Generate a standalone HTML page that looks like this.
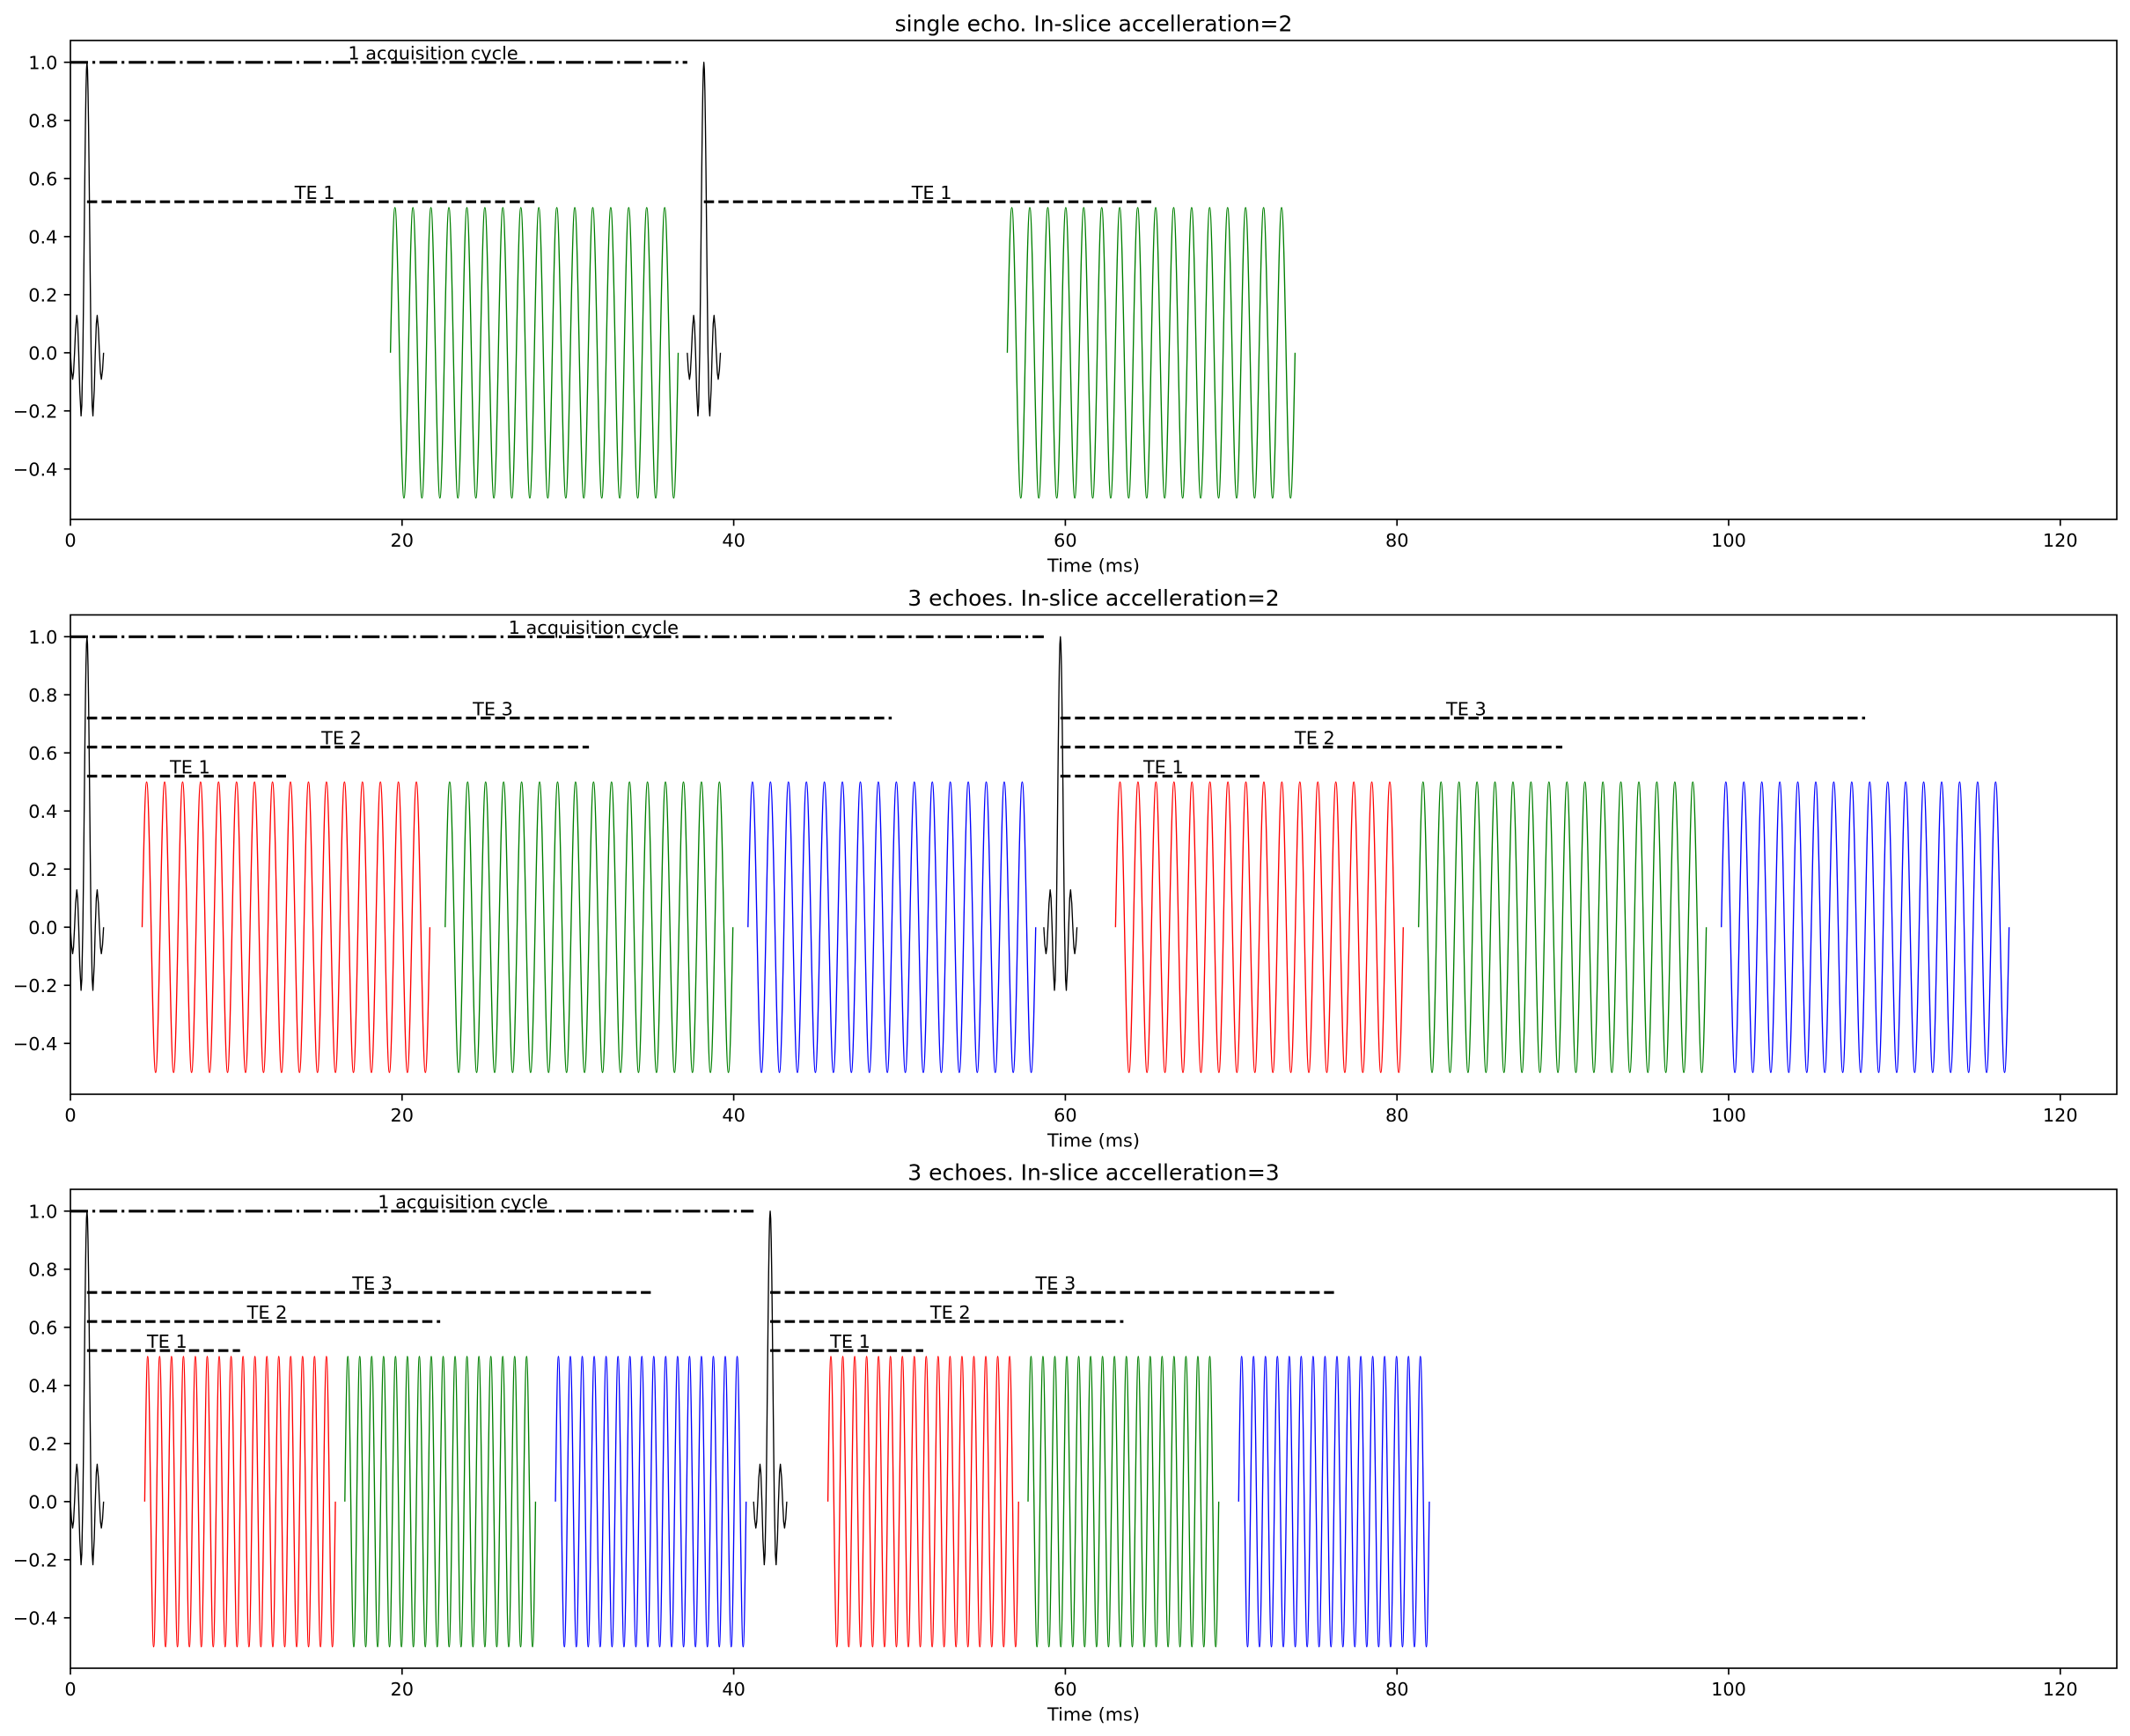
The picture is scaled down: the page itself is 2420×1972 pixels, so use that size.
<!DOCTYPE html>
<html><head><meta charset="utf-8"><style>html,body{margin:0;padding:0;background:#fff}svg{display:block}</style></head>
<body>
<svg xmlns="http://www.w3.org/2000/svg" width="2420" height="1972" viewBox="0 0 2420 1972">
<defs>
<path id="ro2" fill="none" d="M0,0 c1.666,-84.53 3.259,-165 5.108,-165 c1.848,0 3.442,80.47 5.108,165 c1.666,84.53 3.259,165 5.108,165 c1.848,0 3.442,-80.47 5.108,-165 c1.666,-84.53 3.259,-165 5.108,-165 c1.848,0 3.442,80.47 5.108,165 c1.666,84.53 3.259,165 5.108,165 c1.848,0 3.442,-80.47 5.108,-165 c1.666,-84.53 3.259,-165 5.108,-165 c1.848,0 3.442,80.47 5.108,165 c1.666,84.53 3.259,165 5.108,165 c1.848,0 3.442,-80.47 5.108,-165 c1.666,-84.53 3.259,-165 5.108,-165 c1.848,0 3.442,80.47 5.108,165 c1.666,84.53 3.259,165 5.108,165 c1.848,0 3.442,-80.47 5.108,-165 c1.666,-84.53 3.259,-165 5.108,-165 c1.848,0 3.442,80.47 5.108,165 c1.666,84.53 3.259,165 5.108,165 c1.848,0 3.442,-80.47 5.108,-165 c1.666,-84.53 3.259,-165 5.108,-165 c1.848,0 3.442,80.47 5.108,165 c1.666,84.53 3.259,165 5.108,165 c1.848,0 3.442,-80.47 5.108,-165 c1.666,-84.53 3.259,-165 5.108,-165 c1.848,0 3.442,80.47 5.108,165 c1.666,84.53 3.259,165 5.108,165 c1.848,0 3.442,-80.47 5.108,-165 c1.666,-84.53 3.259,-165 5.108,-165 c1.848,0 3.442,80.47 5.108,165 c1.666,84.53 3.259,165 5.108,165 c1.848,0 3.442,-80.47 5.108,-165 c1.666,-84.53 3.259,-165 5.108,-165 c1.848,0 3.442,80.47 5.108,165 c1.666,84.53 3.259,165 5.108,165 c1.848,0 3.442,-80.47 5.108,-165 c1.666,-84.53 3.259,-165 5.108,-165 c1.848,0 3.442,80.47 5.108,165 c1.666,84.53 3.259,165 5.108,165 c1.848,0 3.442,-80.47 5.108,-165 c1.666,-84.53 3.259,-165 5.108,-165 c1.848,0 3.442,80.47 5.108,165 c1.666,84.53 3.259,165 5.108,165 c1.848,0 3.442,-80.47 5.108,-165 c1.666,-84.53 3.259,-165 5.108,-165 c1.848,0 3.442,80.47 5.108,165 c1.666,84.53 3.259,165 5.108,165 c1.848,0 3.442,-80.47 5.108,-165 c1.666,-84.53 3.259,-165 5.108,-165 c1.848,0 3.442,80.47 5.108,165 c1.666,84.53 3.259,165 5.108,165 c1.848,0 3.442,-80.47 5.108,-165 c1.666,-84.53 3.259,-165 5.108,-165 c1.848,0 3.442,80.47 5.108,165 c1.666,84.53 3.259,165 5.108,165 c1.848,0 3.442,-80.47 5.108,-165 c1.666,-84.53 3.259,-165 5.108,-165 c1.848,0 3.442,80.47 5.108,165 c1.666,84.53 3.259,165 5.108,165 c1.848,0 3.442,-80.47 5.108,-165 c1.666,-84.53 3.259,-165 5.108,-165 c1.848,0 3.442,80.47 5.108,165 c1.666,84.53 3.259,165 5.108,165 c1.848,0 3.442,-80.47 5.108,-165"/>
<path id="ro3" fill="none" d="M0,0 c1.104,-84.53 2.160,-165 3.385,-165 c1.225,0 2.281,80.47 3.385,165 c1.104,84.53 2.160,165 3.385,165 c1.225,0 2.281,-80.47 3.385,-165 c1.104,-84.53 2.160,-165 3.385,-165 c1.225,0 2.281,80.47 3.385,165 c1.104,84.53 2.160,165 3.385,165 c1.225,0 2.281,-80.47 3.385,-165 c1.104,-84.53 2.160,-165 3.385,-165 c1.225,0 2.281,80.47 3.385,165 c1.104,84.53 2.160,165 3.385,165 c1.225,0 2.281,-80.47 3.385,-165 c1.104,-84.53 2.160,-165 3.385,-165 c1.225,0 2.281,80.47 3.385,165 c1.104,84.53 2.160,165 3.385,165 c1.225,0 2.281,-80.47 3.385,-165 c1.104,-84.53 2.160,-165 3.385,-165 c1.225,0 2.281,80.47 3.385,165 c1.104,84.53 2.160,165 3.385,165 c1.225,0 2.281,-80.47 3.385,-165 c1.104,-84.53 2.160,-165 3.385,-165 c1.225,0 2.281,80.47 3.385,165 c1.104,84.53 2.160,165 3.385,165 c1.225,0 2.281,-80.47 3.385,-165 c1.104,-84.53 2.160,-165 3.385,-165 c1.225,0 2.281,80.47 3.385,165 c1.104,84.53 2.160,165 3.385,165 c1.225,0 2.281,-80.47 3.385,-165 c1.104,-84.53 2.160,-165 3.385,-165 c1.225,0 2.281,80.47 3.385,165 c1.104,84.53 2.160,165 3.385,165 c1.225,0 2.281,-80.47 3.385,-165 c1.104,-84.53 2.160,-165 3.385,-165 c1.225,0 2.281,80.47 3.385,165 c1.104,84.53 2.160,165 3.385,165 c1.225,0 2.281,-80.47 3.385,-165 c1.104,-84.53 2.160,-165 3.385,-165 c1.225,0 2.281,80.47 3.385,165 c1.104,84.53 2.160,165 3.385,165 c1.225,0 2.281,-80.47 3.385,-165 c1.104,-84.53 2.160,-165 3.385,-165 c1.225,0 2.281,80.47 3.385,165 c1.104,84.53 2.160,165 3.385,165 c1.225,0 2.281,-80.47 3.385,-165 c1.104,-84.53 2.160,-165 3.385,-165 c1.225,0 2.281,80.47 3.385,165 c1.104,84.53 2.160,165 3.385,165 c1.225,0 2.281,-80.47 3.385,-165 c1.104,-84.53 2.160,-165 3.385,-165 c1.225,0 2.281,80.47 3.385,165 c1.104,84.53 2.160,165 3.385,165 c1.225,0 2.281,-80.47 3.385,-165 c1.104,-84.53 2.160,-165 3.385,-165 c1.225,0 2.281,80.47 3.385,165 c1.104,84.53 2.160,165 3.385,165 c1.225,0 2.281,-80.47 3.385,-165 c1.104,-84.53 2.160,-165 3.385,-165 c1.225,0 2.281,80.47 3.385,165 c1.104,84.53 2.160,165 3.385,165 c1.225,0 2.281,-80.47 3.385,-165 c1.104,-84.53 2.160,-165 3.385,-165 c1.225,0 2.281,80.47 3.385,165 c1.104,84.53 2.160,165 3.385,165 c1.225,0 2.281,-80.47 3.385,-165"/>
<path id="rf" fill="none" d="M-18.84,0 L-17.66,19.8 L-16.34,30.1 L-15.31,22.9 L-14.13,0 L-12.95,-27.0 L-11.59,-42.4 L-10.60,-33.0 L-9.42,0 L-8.24,42.4 L-6.74,71.7 L-5.89,59.4 L-4.71,0 L-4.12,-45.9 L-3.53,-99.0 L-2.94,-155.3 L-2.36,-210.1 L-1.77,-258.8 L-1.18,-297.1 L-0.59,-321.6 L0,-330 L0.59,-321.6 L1.18,-297.1 L1.77,-258.8 L2.36,-210.1 L2.94,-155.3 L3.53,-99.0 L4.12,-45.9 L4.71,0 L5.89,59.4 L6.74,71.7 L8.24,42.4 L9.42,0 L10.60,-33.0 L11.59,-42.4 L12.95,-27.0 L14.13,0 L15.31,22.9 L16.34,30.1 L17.66,19.8 L18.84,0"/>
</defs>

<!-- ================= Axes 1 ================= -->
<g fill="none" stroke-width="1.35" stroke-linejoin="round">
  <use href="#rf" x="98.84" y="400.75" stroke="#000"/>
  <use href="#rf" x="799.69" y="400.75" stroke="#000"/>
  <use href="#ro2" x="443.61" y="400.75" stroke="#008000"/>
  <use href="#ro2" x="1144.46" y="400.75" stroke="#008000"/>
</g>
<g fill="none" stroke="#000" stroke-width="3.125">
  <line x1="80" y1="70.75" x2="780.85" y2="70.75" stroke-dasharray="20 5 3.125 5"/>
  <line x1="98.84" y1="229.15" x2="608.46" y2="229.15" stroke-dasharray="11.56 5"/>
  <line x1="799.69" y1="229.15" x2="1309.3" y2="229.15" stroke-dasharray="11.56 5"/>
</g>
<g font-family="'DejaVu Sans', 'Liberation Sans', sans-serif" font-size="20.83" fill="#000">
  <text x="395.4" y="67.45">1 acquisition cycle</text>
  <text x="334.8" y="225.85">TE 1</text>
  <text x="1035.7" y="225.85">TE 1</text>
</g>
<rect x="80" y="46" width="2325" height="544" fill="none" stroke="#000" stroke-width="1.67"/>
<g stroke="#000" stroke-width="1.67">
  <line x1="80" y1="590" x2="80" y2="597.3"/><line x1="456.8" y1="590" x2="456.8" y2="597.3"/><line x1="833.6" y1="590" x2="833.6" y2="597.3"/><line x1="1210.4" y1="590" x2="1210.4" y2="597.3"/><line x1="1587.2" y1="590" x2="1587.2" y2="597.3"/><line x1="1964" y1="590" x2="1964" y2="597.3"/><line x1="2340.8" y1="590" x2="2340.8" y2="597.3"/>
  <line x1="72.7" y1="532.75" x2="80" y2="532.75"/><line x1="72.7" y1="466.75" x2="80" y2="466.75"/><line x1="72.7" y1="400.75" x2="80" y2="400.75"/><line x1="72.7" y1="334.75" x2="80" y2="334.75"/><line x1="72.7" y1="268.75" x2="80" y2="268.75"/><line x1="72.7" y1="202.75" x2="80" y2="202.75"/><line x1="72.7" y1="136.75" x2="80" y2="136.75"/><line x1="72.7" y1="70.75" x2="80" y2="70.75"/>
</g>
<g font-family="'DejaVu Sans', 'Liberation Sans', sans-serif" font-size="20.83" fill="#000" text-anchor="middle">
  <text x="80" y="620.8">0</text><text x="456.8" y="620.8">20</text><text x="833.6" y="620.8">40</text><text x="1210.4" y="620.8">60</text><text x="1587.2" y="620.8">80</text><text x="1964" y="620.8">100</text><text x="2340.8" y="620.8">120</text>
  <text x="1242.5" y="649.5">Time (ms)</text>
</g>
<g font-family="'DejaVu Sans', 'Liberation Sans', sans-serif" font-size="20.83" fill="#000" text-anchor="end">
  <text x="65.4" y="540.35">−0.4</text><text x="65.4" y="474.35">−0.2</text><text x="65.4" y="408.35">0.0</text><text x="65.4" y="342.35">0.2</text><text x="65.4" y="276.35">0.4</text><text x="65.4" y="210.35">0.6</text><text x="65.4" y="144.35">0.8</text><text x="65.4" y="78.35">1.0</text>
</g>
<text x="1242.5" y="35.3" font-family="'DejaVu Sans', 'Liberation Sans', sans-serif" font-size="25" text-anchor="middle" fill="#000">single echo. In-slice accelleration=2</text>

<!-- ================= Axes 2 ================= -->
<g fill="none" stroke-width="1.35" stroke-linejoin="round">
  <use href="#rf" x="98.84" y="1053.25" stroke="#000"/>
  <use href="#rf" x="1204.75" y="1053.25" stroke="#000"/>
  <use href="#ro2" x="161.48" y="1053.25" stroke="#ff0000"/>
  <use href="#ro2" x="505.78" y="1053.25" stroke="#008000"/>
  <use href="#ro2" x="849.80" y="1053.25" stroke="#0000ff"/>
  <use href="#ro2" x="1267.39" y="1053.25" stroke="#ff0000"/>
  <use href="#ro2" x="1611.69" y="1053.25" stroke="#008000"/>
  <use href="#ro2" x="1955.71" y="1053.25" stroke="#0000ff"/>
</g>
<g fill="none" stroke="#000" stroke-width="3.125">
  <line x1="80" y1="723.25" x2="1185.9" y2="723.25" stroke-dasharray="20 5 3.125 5"/>
  <line x1="98.84" y1="881.65" x2="324.92" y2="881.65" stroke-dasharray="11.56 5"/>
  <line x1="98.84" y1="848.65" x2="669.13" y2="848.65" stroke-dasharray="11.56 5"/>
  <line x1="98.84" y1="815.65" x2="1013.15" y2="815.65" stroke-dasharray="11.56 5"/>
  <line x1="1204.75" y1="881.65" x2="1430.83" y2="881.65" stroke-dasharray="11.56 5"/>
  <line x1="1204.75" y1="848.65" x2="1775.03" y2="848.65" stroke-dasharray="11.56 5"/>
  <line x1="1204.75" y1="815.65" x2="2119.05" y2="815.65" stroke-dasharray="11.56 5"/>
</g>
<g font-family="'DejaVu Sans', 'Liberation Sans', sans-serif" font-size="20.83" fill="#000">
  <text x="577.66" y="719.95">1 acquisition cycle</text>
  <text x="193.04" y="878.35">TE 1</text>
  <text x="365.14" y="845.35">TE 2</text>
  <text x="537.15" y="812.35">TE 3</text>
  <text x="1298.95" y="878.35">TE 1</text>
  <text x="1471.05" y="845.35">TE 2</text>
  <text x="1643.06" y="812.35">TE 3</text>
</g>
<rect x="80" y="698.5" width="2325" height="544.5" fill="none" stroke="#000" stroke-width="1.67"/>
<g stroke="#000" stroke-width="1.67">
  <line x1="80" y1="1243" x2="80" y2="1250.3"/><line x1="456.8" y1="1243" x2="456.8" y2="1250.3"/><line x1="833.6" y1="1243" x2="833.6" y2="1250.3"/><line x1="1210.4" y1="1243" x2="1210.4" y2="1250.3"/><line x1="1587.2" y1="1243" x2="1587.2" y2="1250.3"/><line x1="1964" y1="1243" x2="1964" y2="1250.3"/><line x1="2340.8" y1="1243" x2="2340.8" y2="1250.3"/>
  <line x1="72.7" y1="1185.25" x2="80" y2="1185.25"/><line x1="72.7" y1="1119.25" x2="80" y2="1119.25"/><line x1="72.7" y1="1053.25" x2="80" y2="1053.25"/><line x1="72.7" y1="987.25" x2="80" y2="987.25"/><line x1="72.7" y1="921.25" x2="80" y2="921.25"/><line x1="72.7" y1="855.25" x2="80" y2="855.25"/><line x1="72.7" y1="789.25" x2="80" y2="789.25"/><line x1="72.7" y1="723.25" x2="80" y2="723.25"/>
</g>
<g font-family="'DejaVu Sans', 'Liberation Sans', sans-serif" font-size="20.83" fill="#000" text-anchor="middle">
  <text x="80" y="1273.8">0</text><text x="456.8" y="1273.8">20</text><text x="833.6" y="1273.8">40</text><text x="1210.4" y="1273.8">60</text><text x="1587.2" y="1273.8">80</text><text x="1964" y="1273.8">100</text><text x="2340.8" y="1273.8">120</text>
  <text x="1242.5" y="1302.5">Time (ms)</text>
</g>
<g font-family="'DejaVu Sans', 'Liberation Sans', sans-serif" font-size="20.83" fill="#000" text-anchor="end">
  <text x="65.4" y="1192.85">−0.4</text><text x="65.4" y="1126.85">−0.2</text><text x="65.4" y="1060.85">0.0</text><text x="65.4" y="994.85">0.2</text><text x="65.4" y="928.85">0.4</text><text x="65.4" y="862.85">0.6</text><text x="65.4" y="796.85">0.8</text><text x="65.4" y="730.85">1.0</text>
</g>
<text x="1242.5" y="687.8" font-family="'DejaVu Sans', 'Liberation Sans', sans-serif" font-size="25" text-anchor="middle" fill="#000">3 echoes. In-slice accelleration=2</text>

<!-- ================= Axes 3 ================= -->
<g fill="none" stroke-width="1.35" stroke-linejoin="round">
  <use href="#rf" x="98.84" y="1705.75" stroke="#000"/>
  <use href="#rf" x="875.05" y="1705.75" stroke="#000"/>
  <use href="#ro3" x="164.40" y="1705.75" stroke="#ff0000"/>
  <use href="#ro3" x="391.80" y="1705.75" stroke="#008000"/>
  <use href="#ro3" x="631.07" y="1705.75" stroke="#0000ff"/>
  <use href="#ro3" x="940.61" y="1705.75" stroke="#ff0000"/>
  <use href="#ro3" x="1168.01" y="1705.75" stroke="#008000"/>
  <use href="#ro3" x="1407.28" y="1705.75" stroke="#0000ff"/>
</g>
<g fill="none" stroke="#000" stroke-width="3.125">
  <line x1="80" y1="1375.75" x2="856.21" y2="1375.75" stroke-dasharray="20 5 3.125 5"/>
  <line x1="98.84" y1="1534.15" x2="272.73" y2="1534.15" stroke-dasharray="11.56 5"/>
  <line x1="98.84" y1="1501.15" x2="500.13" y2="1501.15" stroke-dasharray="11.56 5"/>
  <line x1="98.84" y1="1468.15" x2="739.4" y2="1468.15" stroke-dasharray="11.56 5"/>
  <line x1="875.05" y1="1534.15" x2="1048.94" y2="1534.15" stroke-dasharray="11.56 5"/>
  <line x1="875.05" y1="1501.15" x2="1276.34" y2="1501.15" stroke-dasharray="11.56 5"/>
  <line x1="875.05" y1="1468.15" x2="1515.61" y2="1468.15" stroke-dasharray="11.56 5"/>
</g>
<g font-family="'DejaVu Sans', 'Liberation Sans', sans-serif" font-size="20.83" fill="#000">
  <text x="429.29" y="1372.45">1 acquisition cycle</text>
  <text x="166.95" y="1530.85">TE 1</text>
  <text x="280.65" y="1497.85">TE 2</text>
  <text x="400.28" y="1464.85">TE 3</text>
  <text x="943.15" y="1530.85">TE 1</text>
  <text x="1056.85" y="1497.85">TE 2</text>
  <text x="1176.49" y="1464.85">TE 3</text>
</g>
<rect x="80" y="1351" width="2325" height="544" fill="none" stroke="#000" stroke-width="1.67"/>
<g stroke="#000" stroke-width="1.67">
  <line x1="80" y1="1895" x2="80" y2="1902.3"/><line x1="456.8" y1="1895" x2="456.8" y2="1902.3"/><line x1="833.6" y1="1895" x2="833.6" y2="1902.3"/><line x1="1210.4" y1="1895" x2="1210.4" y2="1902.3"/><line x1="1587.2" y1="1895" x2="1587.2" y2="1902.3"/><line x1="1964" y1="1895" x2="1964" y2="1902.3"/><line x1="2340.8" y1="1895" x2="2340.8" y2="1902.3"/>
  <line x1="72.7" y1="1837.75" x2="80" y2="1837.75"/><line x1="72.7" y1="1771.75" x2="80" y2="1771.75"/><line x1="72.7" y1="1705.75" x2="80" y2="1705.75"/><line x1="72.7" y1="1639.75" x2="80" y2="1639.75"/><line x1="72.7" y1="1573.75" x2="80" y2="1573.75"/><line x1="72.7" y1="1507.75" x2="80" y2="1507.75"/><line x1="72.7" y1="1441.75" x2="80" y2="1441.75"/><line x1="72.7" y1="1375.75" x2="80" y2="1375.75"/>
</g>
<g font-family="'DejaVu Sans', 'Liberation Sans', sans-serif" font-size="20.83" fill="#000" text-anchor="middle">
  <text x="80" y="1925.8">0</text><text x="456.8" y="1925.8">20</text><text x="833.6" y="1925.8">40</text><text x="1210.4" y="1925.8">60</text><text x="1587.2" y="1925.8">80</text><text x="1964" y="1925.8">100</text><text x="2340.8" y="1925.8">120</text>
  <text x="1242.5" y="1954.5">Time (ms)</text>
</g>
<g font-family="'DejaVu Sans', 'Liberation Sans', sans-serif" font-size="20.83" fill="#000" text-anchor="end">
  <text x="65.4" y="1845.35">−0.4</text><text x="65.4" y="1779.35">−0.2</text><text x="65.4" y="1713.35">0.0</text><text x="65.4" y="1647.35">0.2</text><text x="65.4" y="1581.35">0.4</text><text x="65.4" y="1515.35">0.6</text><text x="65.4" y="1449.35">0.8</text><text x="65.4" y="1383.35">1.0</text>
</g>
<text x="1242.5" y="1340.3" font-family="'DejaVu Sans', 'Liberation Sans', sans-serif" font-size="25" text-anchor="middle" fill="#000">3 echoes. In-slice accelleration=3</text>
</svg>
</body></html>
